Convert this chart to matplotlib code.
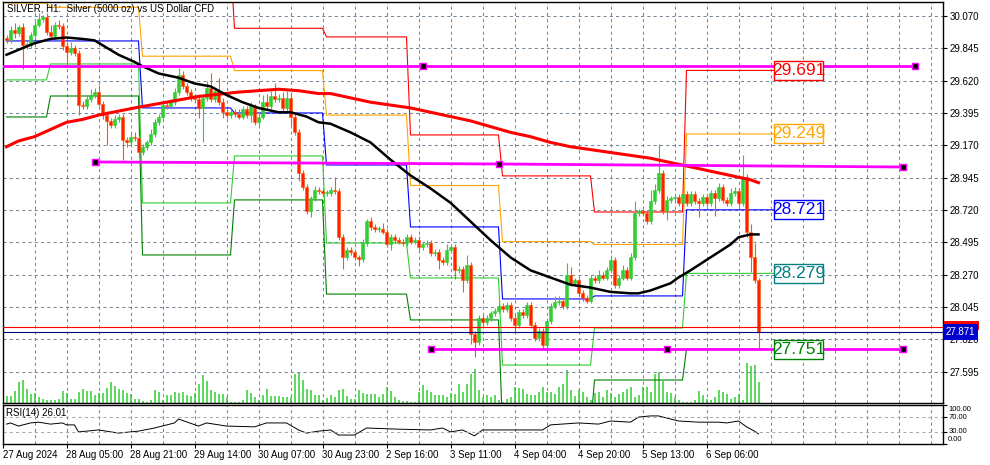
import numpy as np
import matplotlib.pyplot as plt
from matplotlib.patches import Rectangle
from matplotlib.transforms import blended_transform_factory

plt.rcParams['font.family'] = ['Liberation Sans', 'DejaVu Sans']

# --- SILVER H1 candles (bar 0 = first visible bar) ---
open_first = 29.92
closes = [
    29.90, 29.97, 29.95, 29.99, 29.87, 29.87, 29.94, 30.01, 30.05, 30.06,
    29.96, 29.93, 30.01, 30.00, 29.86, 29.82, 29.85, 29.81, 29.45, 29.44,
    29.49, 29.52, 29.54, 29.46, 29.38, 29.34, 29.31, 29.35, 29.37, 29.21,
    29.19, 29.23, 29.22, 29.12, 29.16, 29.19, 29.25, 29.33, 29.37, 29.45,
    29.44, 29.47, 29.54, 29.66, 29.58, 29.54, 29.50, 29.49, 29.43, 29.50,
    29.57, 29.49, 29.55, 29.47, 29.40, 29.38, 29.40, 29.39, 29.37, 29.42,
    29.38, 29.44, 29.33, 29.37, 29.47, 29.44, 29.51, 29.49, 29.50, 29.43,
    29.50, 29.37, 29.26, 28.98, 28.88, 28.71, 28.80, 28.86, 28.85, 28.84,
    28.84, 28.86, 28.85, 28.53, 28.39, 28.44, 28.43, 28.39, 28.38, 28.49,
    28.64, 28.60, 28.59, 28.59, 28.57, 28.48, 28.53, 28.51, 28.50, 28.49,
    28.53, 28.50, 28.51, 28.46, 28.48, 28.49, 28.42, 28.43, 28.37, 28.36,
    28.44, 28.46, 28.30, 28.31, 28.23, 28.34, 27.86, 27.80, 27.97, 27.94,
    27.97, 28.00, 28.02, 28.05, 28.03, 28.06, 27.97, 27.92, 28.01, 27.99,
    28.06, 27.92, 27.83, 27.88, 27.78, 27.95, 28.05, 28.08, 28.09, 28.05,
    28.27, 28.21, 28.23, 28.14, 28.11, 28.09, 28.25, 28.23, 28.27, 28.25,
    28.30, 28.37, 28.20, 28.25, 28.30, 28.25, 28.39, 28.70, 28.71, 28.70,
    28.64, 28.78, 28.86, 28.98, 28.71, 28.79, 28.80, 28.81, 28.77, 28.83,
    28.77, 28.83, 28.78, 28.77, 28.81, 28.77, 28.84, 28.80, 28.88, 28.79,
    28.77, 28.84, 28.85, 28.77, 28.95, 28.57, 28.39, 28.23, 27.871,
]
wick_up = [
    0.02, 0.03, 0.05, 0.02, 0.03, 0.02, 0.02, 0.03, 0.04, 0.02,
    0.03, 0.05, 0.02, 0.03, 0.02, 0.03, 0.04, 0.02, 0.02, 0.03,
    0.03, 0.04, 0.03, 0.05, 0.02, 0.03, 0.02, 0.03, 0.02, 0.02,
    0.02, 0.02, 0.03, 0.02, 0.02, 0.02, 0.03, 0.02, 0.02, 0.03,
    0.02, 0.02, 0.03, 0.05, 0.03, 0.02, 0.02, 0.03, 0.03, 0.03,
    0.05, 0.10, 0.02, 0.09, 0.03, 0.02, 0.02, 0.02, 0.03, 0.02,
    0.02, 0.03, 0.02, 0.03, 0.05, 0.06, 0.04, 0.09, 0.03, 0.04,
    0.05, 0.04, 0.02, 0.02, 0.02, 0.02, 0.02, 0.03, 0.02, 0.02,
    0.02, 0.02, 0.09, 0.02, 0.02, 0.02, 0.02, 0.02, 0.02, 0.03,
    0.02, 0.03, 0.02, 0.02, 0.04, 0.02, 0.02, 0.02, 0.02, 0.02,
    0.02, 0.02, 0.02, 0.03, 0.02, 0.02, 0.02, 0.02, 0.02, 0.02,
    0.04, 0.02, 0.02, 0.02, 0.02, 0.07, 0.02, 0.02, 0.02, 0.02,
    0.02, 0.02, 0.02, 0.02, 0.02, 0.02, 0.02, 0.02, 0.02, 0.02,
    0.02, 0.02, 0.02, 0.02, 0.02, 0.02, 0.02, 0.04, 0.03, 0.02,
    0.08, 0.05, 0.02, 0.02, 0.02, 0.02, 0.02, 0.02, 0.03, 0.02,
    0.02, 0.04, 0.02, 0.02, 0.04, 0.02, 0.03, 0.08, 0.02, 0.02,
    0.02, 0.08, 0.04, 0.20, 0.02, 0.03, 0.02, 0.02, 0.02, 0.02,
    0.02, 0.02, 0.02, 0.02, 0.02, 0.02, 0.02, 0.02, 0.03, 0.02,
    0.02, 0.03, 0.03, 0.02, 0.15, 0.02, 0.05, 0.10, 0.02,
]
wick_dn = [
    0.02, 0.02, 0.03, 0.02, 0.17, 0.03, 0.02, 0.02, 0.02, 0.02,
    0.02, 0.03, 0.02, 0.02, 0.03, 0.08, 0.02, 0.02, 0.07, 0.02,
    0.02, 0.02, 0.02, 0.02, 0.03, 0.17, 0.02, 0.02, 0.02, 0.14,
    0.03, 0.02, 0.02, 0.03, 0.02, 0.02, 0.02, 0.02, 0.02, 0.02,
    0.02, 0.02, 0.02, 0.02, 0.02, 0.02, 0.02, 0.02, 0.07, 0.24,
    0.02, 0.02, 0.02, 0.02, 0.04, 0.02, 0.02, 0.02, 0.02, 0.02,
    0.02, 0.05, 0.02, 0.02, 0.02, 0.02, 0.02, 0.02, 0.02, 0.02,
    0.02, 0.06, 0.02, 0.06, 0.02, 0.02, 0.04, 0.02, 0.02, 0.02,
    0.02, 0.02, 0.02, 0.02, 0.08, 0.02, 0.02, 0.02, 0.05, 0.02,
    0.02, 0.02, 0.02, 0.02, 0.02, 0.02, 0.04, 0.02, 0.02, 0.02,
    0.02, 0.02, 0.02, 0.02, 0.02, 0.02, 0.02, 0.02, 0.06, 0.02,
    0.02, 0.02, 0.06, 0.02, 0.08, 0.02, 0.07, 0.10, 0.02, 0.02,
    0.02, 0.02, 0.02, 0.02, 0.02, 0.02, 0.02, 0.05, 0.02, 0.02,
    0.02, 0.02, 0.02, 0.02, 0.03, 0.02, 0.02, 0.02, 0.02, 0.02,
    0.02, 0.02, 0.02, 0.02, 0.02, 0.02, 0.02, 0.02, 0.02, 0.02,
    0.02, 0.02, 0.02, 0.02, 0.02, 0.02, 0.02, 0.02, 0.02, 0.02,
    0.02, 0.02, 0.02, 0.02, 0.02, 0.06, 0.02, 0.02, 0.02, 0.02,
    0.02, 0.02, 0.02, 0.10, 0.02, 0.02, 0.02, 0.12, 0.02, 0.02,
    0.02, 0.02, 0.02, 0.02, 0.02, 0.04, 0.10, 0.02, 0.12,
]
# tick volume (hundreds of ticks)
volumes = [
    7, 7, 12, 21, 23, 14, 9, 10, 6, 4,
    3, 3, 3, 4, 12, 10, 4, 4, 11, 14,
    12, 12, 8, 10, 10, 15, 21, 17, 14, 13,
    10, 9, 4, 4, 2, 1, 3, 13, 11, 3,
    8, 8, 11, 10, 11, 8, 7, 10, 19, 28,
    22, 13, 11, 9, 9, 6, 1, 1, 1, 3,
    13, 10, 6, 3, 8, 14, 7, 7, 7, 6,
    6, 6, 29, 31, 23, 14, 13, 8, 8, 3,
    5, 8, 6, 13, 14, 7, 4, 4, 13, 10,
    9, 9, 9, 6, 9, 16, 12, 6, 3, 2,
    2, 1, 1, 11, 18, 13, 11, 8, 8, 8,
    6, 10, 9, 19, 11, 19, 29, 34, 13, 6,
    8, 6, 8, 3, 1, 4, 6, 16, 15, 14,
    9, 8, 8, 11, 16, 11, 11, 9, 16, 19,
    33, 13, 7, 13, 11, 6, 3, 10, 11, 6,
    13, 10, 6, 9, 11, 14, 16, 6, 8, 16,
    16, 11, 29, 31, 22, 11, 10, 6, 3, 1,
    1, 1, 3, 12, 8, 4, 3, 6, 13, 11,
    9, 4, 6, 9, 3, 40, 37, 38, 21,
]

# moving averages (black = fast, red = slow), sampled along the bars
ma_fast_bars = [0, 7, 11, 15, 19, 22, 25, 28, 32, 34, 38, 43, 47, 51, 55, 59,
                63, 68, 71, 75, 78, 81, 86, 91, 96, 101, 106, 111, 116, 121,
                126, 131, 136, 141, 146, 151, 156, 158, 161, 166, 168, 171,
                176, 181, 183, 186, 188]
ma_fast = [29.80, 29.88, 29.91, 29.92, 29.91, 29.90, 29.85, 29.80, 29.75, 29.72,
           29.67, 29.64, 29.60, 29.58, 29.52, 29.47, 29.43, 29.40, 29.40, 29.37,
           29.33, 29.32, 29.26, 29.19, 29.07, 28.96, 28.87, 28.77, 28.64, 28.51,
           28.39, 28.30, 28.25, 28.20, 28.18, 28.15, 28.14, 28.14, 28.16, 28.21,
           28.25, 28.30, 28.39, 28.48, 28.53, 28.55, 28.55]
ma_slow_bars = [0, 3, 7, 11, 15, 19, 23, 32, 40, 48, 58, 68, 73, 78, 81, 86,
                91, 96, 101, 106, 111, 116, 121, 126, 131, 136, 141, 146, 151,
                156, 161, 166, 171, 176, 181, 186, 188]
ma_slow = [29.16, 29.20, 29.23, 29.28, 29.33, 29.35, 29.38, 29.43, 29.47, 29.51,
           29.54, 29.56, 29.55, 29.53, 29.53, 29.50, 29.47, 29.45, 29.43, 29.40,
           29.37, 29.34, 29.30, 29.26, 29.23, 29.19, 29.16, 29.14, 29.12, 29.10,
           29.08, 29.05, 29.02, 28.99, 28.96, 28.93, 28.91]

# RSI(14)
rsi_bars = [0, 1, 3, 6, 8, 11, 14, 15, 17, 18, 23, 28, 33, 37, 42, 43, 48, 50,
            55, 62, 65, 70, 73, 75, 78, 81, 83, 87, 90, 98, 106, 109, 111, 114,
            117, 119, 127, 134, 136, 143, 148, 151, 156, 158, 161, 163, 168,
            173, 178, 180, 183, 185, 187, 188]
rsi_vals = [51, 54, 46, 54, 56, 51, 54, 49, 49, 31, 36, 28, 33, 41, 54, 64, 46, 54,
            46, 44, 54, 54, 36, 28, 33, 36, 23, 23, 41, 38, 36, 41, 31, 36,
            21, 36, 36, 36, 49, 54, 51, 59, 56, 69, 72, 72, 59,
            56, 56, 54, 59, 44, 33, 26.01]

# daily pivot levels, one value per trading day
day_start = [0, 11, 34, 57, 80, 101, 124, 147, 170]
day_end = [10, 33, 56, 79, 100, 123, 146, 169, 191.9]
piv_r2 = [30.45, 30.45, 30.45, 29.984, 29.924, 29.242, 28.957, 28.706, 29.691]
piv_r1 = [30.16, 30.13, 29.79, 29.69, 29.38, 28.89, 28.50, 28.48, 29.249]
piv_p = [29.896, 29.896, 29.43, 29.395, 29.033, 28.602, 28.101, 28.122, 28.721]
piv_s1 = [29.625, 29.736, 28.769, 29.096, 28.490, 28.247, 27.641, 27.899, 28.279]
piv_s2 = [29.367, 29.513, 28.407, 28.790, 28.135, 27.955, 27.20, 27.537, 27.751]

# hand drawn magenta lines
trend_bars = [[-1, 104, 227], [22, 123, 224], [106, 165, 224]]
trend_prices = [[29.722, 29.722, 29.722], [29.054, 29.040, 29.019],
                [27.752, 27.752, 27.752]]

bid = 27.871
ask = 27.905

price_ticks = [30.070, 29.845, 29.620, 29.395, 29.170, 28.945, 28.720,
               28.495, 28.270, 28.045, 27.820, 27.595]
time_bars = [-0.875, 15, 31, 47, 63, 79, 95, 111, 127, 143, 159, 175]
time_labels = ['27 Aug 2024', '28 Aug 05:00', '28 Aug 21:00', '29 Aug 14:00',
               '30 Aug 07:00', '30 Aug 23:00', '2 Sep 16:00', '3 Sep 11:00',
               '4 Sep 04:00', '4 Sep 20:00', '5 Sep 13:00', '6 Sep 06:00']

# --- figure ---
fig = plt.figure(figsize=(9.9, 4.65), dpi=100, facecolor='white')
ax = fig.add_axes([3 / 990, 62 / 465, 940 / 990, 401 / 465])
ax_vol = ax.twinx()
ax_rsi = fig.add_axes([3 / 990, 21 / 465, 940 / 990, 39 / 465])
ax.set_zorder(2)
ax_vol.set_zorder(1)
ax.patch.set_visible(False)

xlim = (-0.875, 234.125)
for a in (ax, ax_vol, ax_rsi):
    a.set_xlim(*xlim)
ax.set_ylim(27.377, 30.167)
ax_vol.set_ylim(0, 401)
ax_vol.axis('off')
ax_rsi.set_ylim(0, 100)

GRID = '#778899'
grid_bars = np.arange(7, 235, 8)
for a in (ax, ax_rsi):
    a.set_xticks(grid_bars, minor=True)
    a.grid(which='both', axis='x', color=GRID, ls=(0, (3, 3)), lw=0.75)
    a.tick_params(which='minor', length=0)
    for s in a.spines.values():
        s.set_linewidth(1.0)

ax.set_xticks([])
ax.set_yticks(price_ticks)
ax.set_yticklabels([f'{p:.3f}' for p in price_ticks])
ax.grid(which='major', axis='y', color=GRID, ls=(0, (3, 3)), lw=0.75)
ax.tick_params(axis='y', right=True, left=False, labelright=True, labelleft=False,
               direction='out', length=3, width=0.8, pad=1.5, labelsize=7)

# volume
x = np.arange(len(closes))
ax_vol.vlines(x, 0, volumes, colors='#32cd32', lw=1.1)

# pivot step lines
for lv, col in [(piv_r2, '#ff0000'), (piv_r1, '#ffa500'), (piv_p, '#0000ff'),
                (piv_s1, '#32cd32'), (piv_s2, '#008000')]:
    xs, ys = [], []
    for s, e, v in zip(day_start, day_end, lv):
        xs += [s, e]
        ys += [v, v]
    ax.plot(xs, ys, color=col, lw=0.8, zorder=2)

# candles
c = np.array(closes)
o = np.concatenate([[open_first], c[:-1]])
hi = np.maximum(o, c) + np.array(wick_up)
lo = np.minimum(o, c) - np.array(wick_dn)
up = c >= o
body_col = np.where(up, '#32cd32', '#ff2000')
wick_col = np.where(up, '#32cd32', '#ff5a00')
ax.vlines(x, lo, hi, colors=wick_col, lw=0.8, zorder=3)
ax.bar(x, np.maximum(np.abs(c - o), 0.004), bottom=np.minimum(o, c), width=0.62,
       color=body_col, edgecolor=wick_col, linewidth=0.4, zorder=3.1)

# moving averages
ax.plot(ma_slow_bars, ma_slow, color='#ff0000', lw=2.2, zorder=4)
ax.plot(ma_fast_bars, ma_fast, color='black', lw=1.8, zorder=4.1)

# bid / ask
ax.axhline(ask, color='#ff0000', lw=0.8, zorder=4.5)
ax.axhline(bid, color='#000080', lw=0.8, zorder=4.5)

# magenta trend lines with anchor squares
for bx, py in zip(trend_bars, trend_prices):
    ax.plot(bx, py, color='#ff00ff', lw=2.0, zorder=5, clip_on=True)
    mb = [b for b in bx if b >= 0]
    mp = [p for b, p in zip(bx, py) if b >= 0]
    ax.plot(mb, mp, ls='none', marker='s', ms=5, mfc='black', mec='#ff00ff',
            mew=1.0, zorder=5.1)

# pivot value boxes at the right end of the lines
narrow = ['Liberation Sans Narrow', 'Liberation Sans', 'DejaVu Sans']
for lv, ec, tc in [(piv_r2, '#ff0000', '#ff0000'), (piv_r1, '#ffa500', '#ffa500'),
                   (piv_p, '#0000ff', '#0000ff'), (piv_s1, '#008080', '#008080'),
                   (piv_s2, '#008000', '#008000')]:
    v = lv[-1]
    ax.add_patch(Rectangle((191.9, v - 0.066), 12.2, 0.132, fc='white', ec=ec,
                           lw=1.0, zorder=6))
    ax.text(198, v, f'{v:.3f}', color=tc, ha='center', va='center',
            fontsize=12.5, family=narrow, zorder=6.1)

# current price tags on the price scale (ask tag sits mostly under the bid tag)
tr = blended_transform_factory(ax.transAxes, ax.transData)
ax.add_patch(Rectangle((1.0011, ask - 0.02), 0.0375, 0.065, transform=tr,
                       fc='#ff0000', ec='none', clip_on=False, zorder=7))
ax.text(1.0032, bid, f'{bid:.3f}', transform=tr, color='white', fontsize=7,
        va='center', ha='left', clip_on=False, zorder=7.1,
        bbox=dict(boxstyle='square,pad=0.3', fc='#0000cd', ec='none'))

ax.text(0.0043, 0.983, 'SILVER, H1:  Silver (5000 oz) vs US Dollar CFD',
        transform=ax.transAxes, fontsize=7, va='center', ha='left', zorder=7)

# --- RSI pane ---
ax_rsi.plot(rsi_bars, rsi_vals, color='black', lw=0.7)
for lvl in (30, 70):
    ax_rsi.axhline(lvl, color='#a9a9a9', ls=(0, (3, 3)), lw=0.75)
ax_rsi.set_yticks([0, 30, 70, 100])
ax_rsi.set_yticklabels([])
ax_rsi.tick_params(axis='y', right=True, left=False, direction='out', length=3,
                   width=0.8)
trr = blended_transform_factory(ax_rsi.transAxes, ax_rsi.transData)
for txt, yv in [('100.00', 89), ('70.00', 67), ('30.00', 33), ('0.00', 11)]:
    ax_rsi.text(1.0055, yv, txt, transform=trr, fontsize=5.5, va='center',
                ha='left', clip_on=False)
ax_rsi.text(0.0033, 79, f'RSI(14) {rsi_vals[-1]:.2f}', transform=trr, fontsize=7,
            va='center', ha='left')

ax_rsi.set_xticks(time_bars)
ax_rsi.set_xticklabels(time_labels)
ax_rsi.tick_params(axis='x', direction='out', length=3, width=0.8, pad=1.5,
                   labelsize=7)
for lbl in ax_rsi.get_xticklabels():
    lbl.set_horizontalalignment('left')

fig.savefig('out.png', dpi=100)
